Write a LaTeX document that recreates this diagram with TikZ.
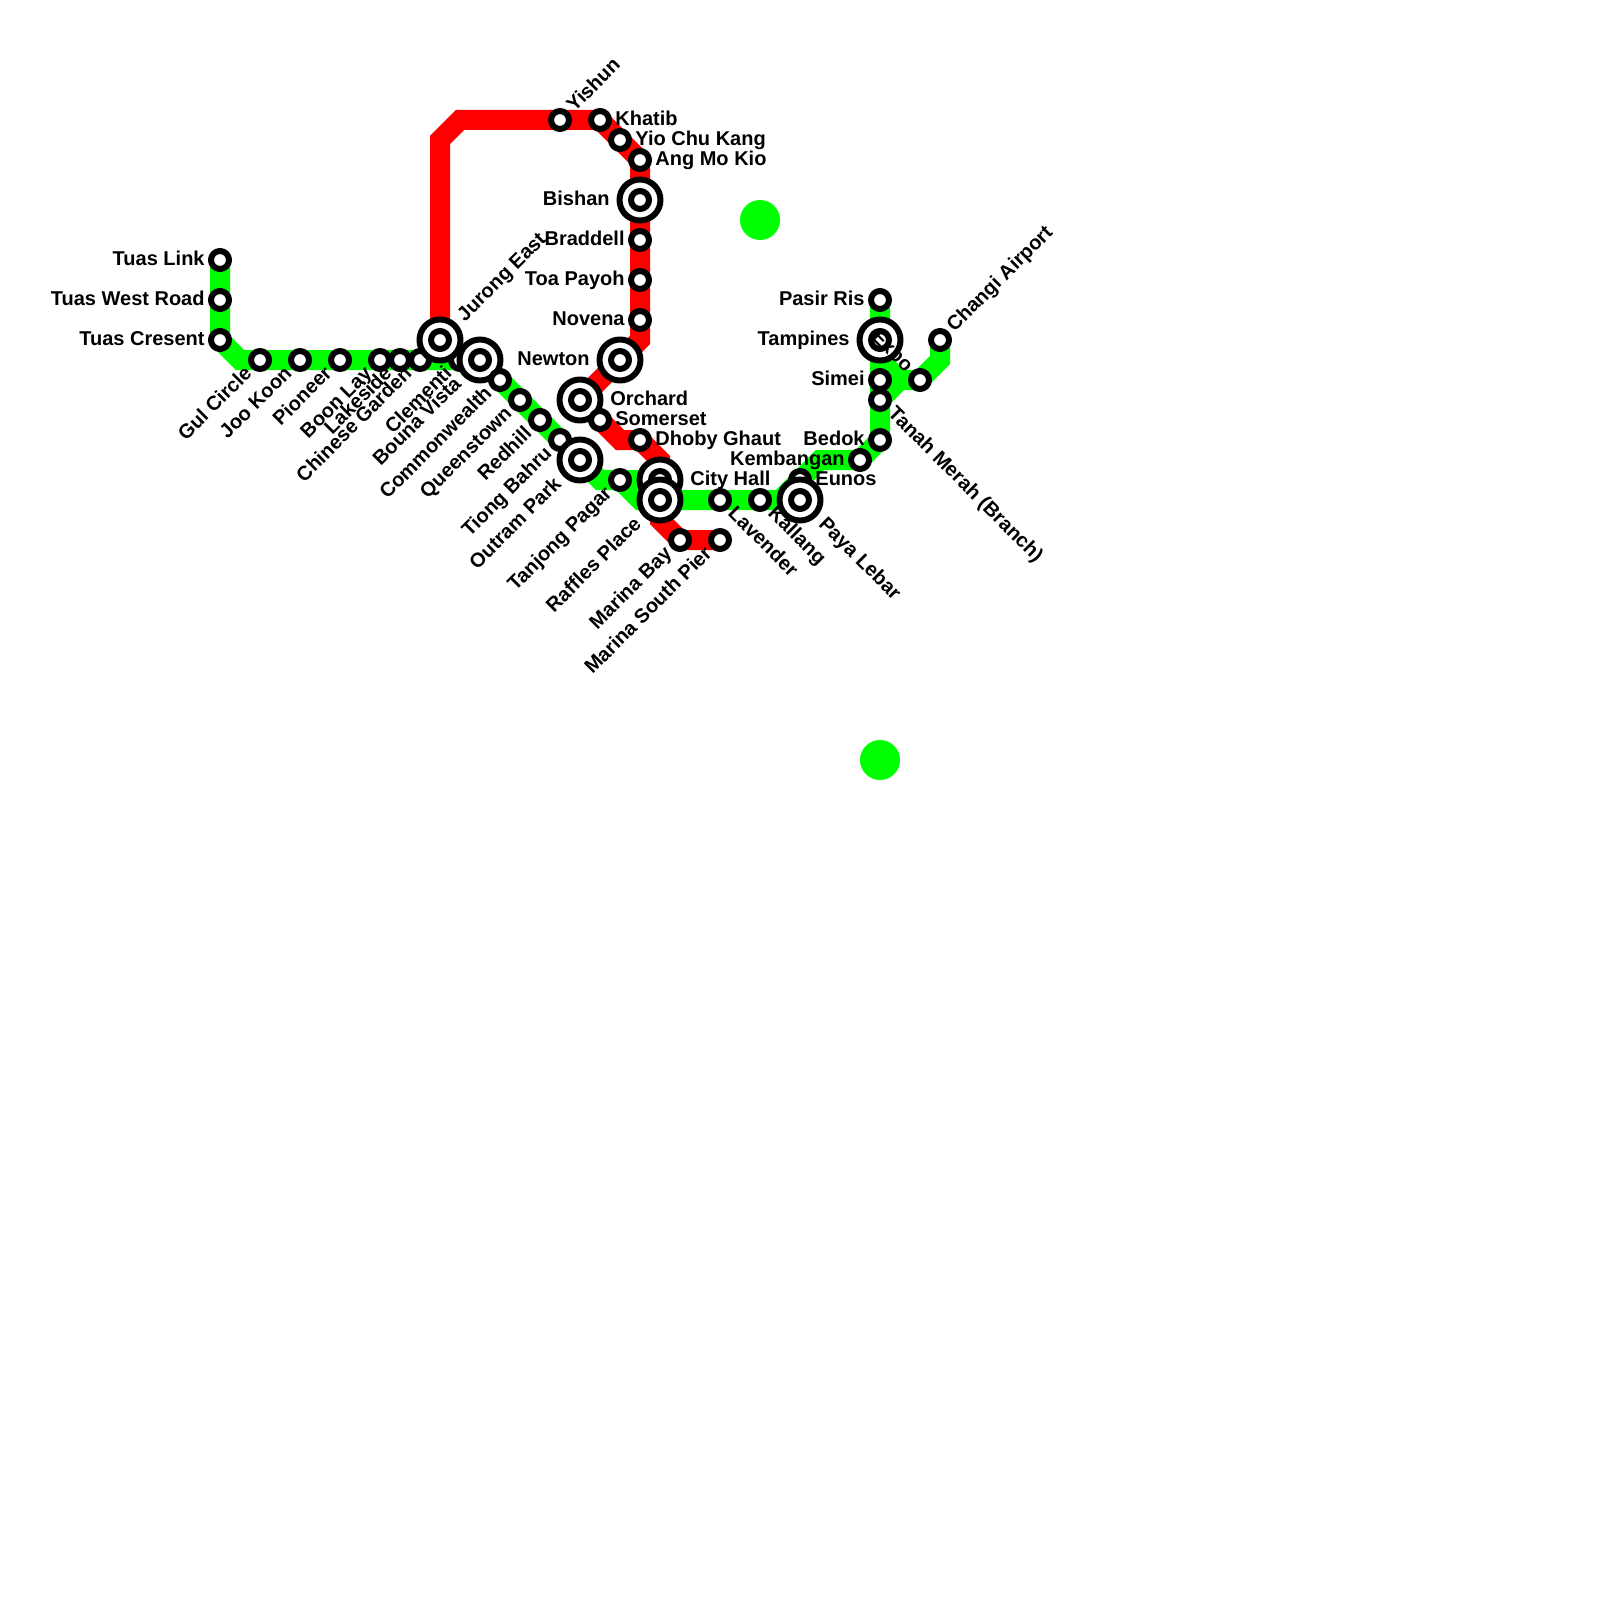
\documentclass[tikz,border=0pt]{standalone}
\usepackage{fontspec}
\setmainfont{Liberation Sans}
\usepackage{xcolor}
\usetikzlibrary{backgrounds}
\definecolor{ewgreen}{HTML}{00FF00}
\definecolor{nsred}{HTML}{FF0000}
\tikzset{
    every picture/.style={line cap=round,line join=round},
    redline/.style={draw=nsred,line width=10pt},
    greenline/.style={draw=ewgreen,line width=10pt},
    station/.style={draw=black,fill=white,circle,line width=3pt,
      minimum size=9pt,inner sep=0pt},
    hub/.style={draw=black,fill=white,circle,line width=3pt,
      minimum size=20.5pt,inner sep=0pt},
    greendot/.style={fill=ewgreen,circle,minimum size=20pt,inner sep=0pt},
    nametext/.style={inner sep=0pt,font=\fontsize{10pt}{12pt}\bfseries\selectfont},
    nameW/.style={nametext,anchor=mid east,xshift=-7.5pt},
    nameE/.style={nametext,anchor=mid west,xshift=7.5pt},
    nameSW/.style={nametext,rotate=45,anchor=mid east,xshift=-7.5pt},
    nameNE/.style={nametext,rotate=45,anchor=mid west,xshift=7.5pt},
    nameSE/.style={nametext,rotate=-45,anchor=mid west,xshift=7.5pt},
    nameNW/.style={nametext,rotate=-45,anchor=mid east,xshift=-7.5pt},
    hubW/.style={nameW,xshift=-7.5pt},
    hubE/.style={nameE,xshift=7.5pt},
    hubSW/.style={nameSW,xshift=-7.5pt},
    hubNE/.style={nameNE,xshift=7.5pt},
    hubSE/.style={nameSE,xshift=7.5pt}
}
\begin{document}
\begin{tikzpicture}[x=0.5pt,y=-0.5pt]
  \useasboundingbox (0,0) rectangle (1600,1600);

  % bends
  \coordinate (r1) at (440,140);
  \coordinate (r2) at (460,120);
  \coordinate (r3) at (640,340);
  \coordinate (r4) at (620,440);
  \coordinate (r5) at (660,460);
  \coordinate (r6) at (660,520);
  \coordinate (g1) at (240,360);
  \coordinate (g2) at (600,480);
  \coordinate (g3) at (640,500);
  \coordinate (g4) at (780,500);
  \coordinate (g5) at (820,460);
  \coordinate (g6) at (880,360);
  \coordinate (g7) at (900,380);
  \coordinate (g8) at (940,360);

  % stations
  \node[station] (tuaslink) at (220,260) {};
  \node[station] (tuaswest) at (220,300) {};
  \node[station] (tuascresent) at (220,340) {};
  \node[station] (gulcircle) at (260,360) {};
  \node[station] (jookoon) at (300,360) {};
  \node[station] (pioneer) at (340,360) {};
  \node[station] (boonlay) at (380,360) {};
  \node[station] (lakeside) at (400,360) {};
  \node[station] (chinesegarden) at (420,360) {};
  \node[station] (clementi) at (460,360) {};
  \node[hub] (jurongeast) at (440,340) {};
  \node[station] (jurongeastin) at (jurongeast) {};
  \node[hub] (buonavista) at (480,360) {};
  \node[station] (buonavistain) at (buonavista) {};
  \node[station] (commonwealth) at (500,380) {};
  \node[station] (queenstown) at (520,400) {};
  \node[station] (redhill) at (540,420) {};
  \node[station] (tiongbahru) at (560,440) {};
  \node[hub] (outrampark) at (580,460) {};
  \node[station] (outramparkin) at (outrampark) {};
  \node[station] (tanjongpagar) at (620,480) {};
  \node[station] (yishun) at (560,120) {};
  \node[station] (khatib) at (600,120) {};
  \node[station] (yiochukang) at (620,140) {};
  \node[station] (angmokio) at (640,160) {};
  \node[hub] (bishan) at (640,200) {};
  \node[station] (bishanin) at (bishan) {};
  \node[station] (braddell) at (640,240) {};
  \node[station] (toapayoh) at (640,280) {};
  \node[station] (novena) at (640,320) {};
  \node[hub] (newton) at (620,360) {};
  \node[station] (newtonin) at (newton) {};
  \node[hub] (orchard) at (580,400) {};
  \node[station] (orchardin) at (orchard) {};
  \node[station] (somerset) at (600,420) {};
  \node[station] (dhobyghaut) at (640,440) {};
  \node[hub] (cityhall) at (660,480) {};
  \node[station] (cityhallin) at (cityhall) {};
  \node[hub] (rafflesplace) at (660,500) {};
  \node[station] (rafflesplacein) at (rafflesplace) {};
  \node[station] (marinabay) at (680,540) {};
  \node[station] (marinasouth) at (720,540) {};
  \node[station] (lavender) at (720,500) {};
  \node[station] (kallang) at (760,500) {};
  \node[station] (eunos) at (800,480) {};
  \node[hub] (payalebar) at (800,500) {};
  \node[station] (payalebarin) at (payalebar) {};
  \node[station] (kembangan) at (860,460) {};
  \node[station] (bedok) at (880,440) {};
  \node[station] (tanahmerah) at (880,400) {};
  \node[station] (simei) at (880,380) {};
  \node[hub] (tampines) at (880,340) {};
  \node[station] (tampinesin) at (tampines) {};
  \node[station] (pasirris) at (880,300) {};
  \node[station] (expo) at (920,380) {};
  \node[station] (changi) at (940,340) {};

  \node[greendot] (dotone) at (760,220) {};
  \node[greendot] (dottwo) at (880,760) {};

  % lines
  \begin{scope}[on background layer]
    \draw[redline] (jurongeast.center) -- (r1) -- (r2) -- (yishun.center) -- (khatib.center)
      -- (yiochukang.center) -- (angmokio.center) -- (bishan.center) -- (braddell.center)
      -- (toapayoh.center) -- (novena.center) -- (r3) -- (newton.center) -- (orchard.center)
      -- (somerset.center) -- (r4) -- (dhobyghaut.center) -- (r5) -- (cityhall.center)
      -- (rafflesplace.center) -- (r6) -- (marinabay.center) -- (marinasouth.center);
    \draw[greenline] (tuaslink.center) -- (tuaswest.center) -- (tuascresent.center) -- (g1)
      -- (gulcircle.center) -- (buonavista.center) -- (commonwealth.center) -- (outrampark.center)
      -- (g2) -- (tanjongpagar.center) -- (g3) -- (rafflesplace.center) -- (payalebar.center);
    \draw[greenline] (tanjongpagar.center) -- (cityhall.center) -- (rafflesplace.center);
    \draw[greenline] (g4) -- (eunos.center) -- (g5) -- (kembangan.center) -- (bedok.center)
      -- (tanahmerah.center) -- (simei.center) -- (tampines.center) -- (pasirris.center);
    \draw[greenline] (g6) -- (g7) -- (expo.center) -- (g8) -- (changi.center);
    \draw[greenline] (g7) -- (tanahmerah.center);
  \end{scope}

  % names
  \node[nameW] (tuaslinkname) at (tuaslink) {Tuas Link};
  \node[nameW] (tuaswestname) at (tuaswest) {Tuas West Road};
  \node[nameW] (tuascresentname) at (tuascresent) {Tuas Cresent};
  \node[nameSW] (gulcirclename) at (gulcircle) {Gul Circle};
  \node[nameSW] (jookoonname) at (jookoon) {Joo Koon};
  \node[nameSW] (pioneername) at (pioneer) {Pioneer};
  \node[nameSW] (boonlayname) at (boonlay) {Boon Lay};
  \node[nameSW] (lakesidename) at (lakeside) {Lakeside};
  \node[nameSW] (chinesegardenname) at (chinesegarden) {Chinese Garden};
  \node[hubNE] (jurongeastname) at (jurongeast) {Jurong East};
  \node[nameSW] (clementiname) at (clementi) {Clementi};
  \node[hubSW] (buonavistaname) at (buonavista) {Bouna Vista};
  \node[nameSW] (commonwealthname) at (commonwealth) {Commonwealth};
  \node[nameSW] (queenstownname) at (queenstown) {Queenstown};
  \node[nameSW] (redhillname) at (redhill) {Redhill};
  \node[nameSW] (tiongbahruname) at (tiongbahru) {Tiong Bahru};
  \node[hubSW] (outramparkname) at (outrampark) {Outram Park};
  \node[nameSW] (tanjongpagarname) at (tanjongpagar) {Tanjong Pagar};
  \node[hubSW] (rafflesplacename) at (rafflesplace) {Raffles Place};
  \node[nameNE] (yishunname) at (yishun) {Yishun};
  \node[nameE] (khatibname) at (khatib) {Khatib};
  \node[nameE] (yiochukangname) at (yiochukang) {Yio Chu Kang};
  \node[nameE] (angmokioname) at (angmokio) {Ang Mo Kio};
  \node[hubW] (bishanname) at (bishan) {Bishan};
  \node[nameW] (braddellname) at (braddell) {Braddell};
  \node[nameW] (toapayohname) at (toapayoh) {Toa Payoh};
  \node[nameW] (novenaname) at (novena) {Novena};
  \node[hubW] (newtonname) at (newton) {Newton};
  \node[hubE] (orchardname) at (orchard) {Orchard};
  \node[nameE] (somersetname) at (somerset) {Somerset};
  \node[nameE] (dhobyghautname) at (dhobyghaut) {Dhoby Ghaut};
  \node[hubE] (cityhallname) at (cityhall) {City Hall};
  \node[nameSW] (marinabayname) at (marinabay) {Marina Bay};
  \node[nameSW] (marinasouthname) at (marinasouth) {Marina South Pier};
  \node[nameSE] (lavendername) at (lavender) {Lavender};
  \node[nameSE] (kallangname) at (kallang) {Kallang};
  \node[hubSE] (payalebarname) at (payalebar) {Paya Lebar};
  \node[nameE] (eunosname) at (eunos) {Eunos};
  \node[nameW] (kembanganname) at (kembangan) {Kembangan};
  \node[nameW] (bedokname) at (bedok) {Bedok};
  \node[nameSE] (tanahmerahname) at (tanahmerah) {Tanah Merah (Branch)};
  \node[nameW] (simeiname) at (simei) {Simei};
  \node[hubW] (tampinesname) at (tampines) {Tampines};
  \node[nameW] (pasirrisname) at (pasirris) {Pasir Ris};
  \node[nameNW] (exponame) at (expo) {Expo};
  \node[nameNE] (changiname) at (changi) {Changi Airport};
\end{tikzpicture}
\end{document}
